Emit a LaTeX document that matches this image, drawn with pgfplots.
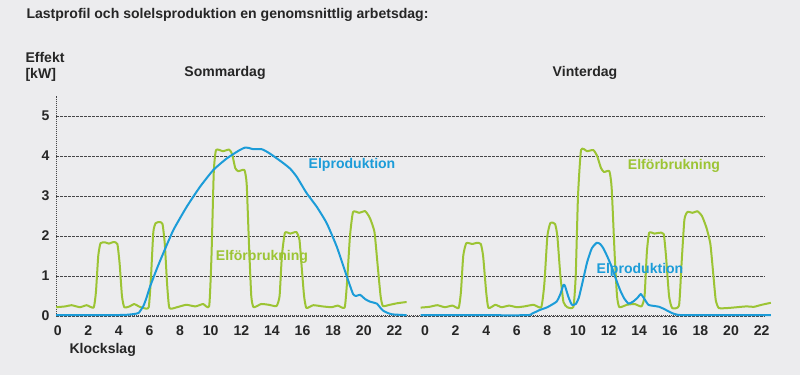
\documentclass[border=0pt]{standalone}
\usepackage{fontspec}
\setmainfont{Liberation Sans}
\usepackage{pgfplots}
\usepackage{pgfplotstable}
\pgfplotsset{compat=1.18}
\definecolor{bgcol}{RGB}{236,236,238}
\definecolor{lgreen}{RGB}{156,196,52}
\definecolor{lblue}{RGB}{28,156,216}
\definecolor{gridc}{RGB}{70,70,72}

\pgfplotstableread{
t y
-0.1 0.22
0.5 0.24
0.9 0.27
1.45 0.22
1.9 0.27
2.35 0.21
2.5 0.6
2.65 1.5
2.8 1.82
3.1 1.84
3.35 1.81
3.65 1.85
3.9 1.8
4.05 1.3
4.2 0.5
4.35 0.22
4.7 0.24
5.0 0.3
5.3 0.24
5.6 0.2
5.95 0.22
6.1 1.0
6.25 2.1
6.4 2.32
6.65 2.35
6.85 2.3
7.0 1.8
7.15 0.8
7.3 0.2
7.8 0.22
8.4 0.28
9.0 0.24
9.5 0.3
9.9 0.25
10.05 1.5
10.2 3.6
10.35 4.15
10.8 4.12
11.2 4.16
11.4 4.05
11.6 3.7
11.8 3.62
12.2 3.65
12.35 3.3
12.5 1.8
12.65 0.5
12.8 0.22
13.3 0.3
13.8 0.28
14.3 0.25
14.5 0.5
14.65 1.5
14.85 2.08
15.2 2.06
15.6 2.1
15.8 1.9
15.95 1.2
16.1 0.5
16.25 0.2
16.7 0.27
17.3 0.24
17.9 0.22
18.3 0.26
18.75 0.21
18.9 0.8
19.1 2.0
19.3 2.6
19.7 2.58
20.1 2.62
20.4 2.45
20.7 2.1
20.9 1.3
21.1 0.5
21.25 0.25
21.7 0.28
22.2 0.32
22.8 0.35
}\sumcons

\pgfplotstableread{
t y
-0.1 0.02
2 0.02
3.5 0.02
4.5 0.03
5.0 0.05
5.3 0.08
5.6 0.25
5.8 0.45
6.03 0.73
6.5 1.2
6.9 1.57
7.56 2.15
8.43 2.73
9.3 3.23
10.17 3.65
11.05 3.94
11.9 4.15
12.24 4.21
12.5 4.2
12.78 4.17
13.33 4.17
13.7 4.1
14.1 4.0
14.75 3.82
15.2 3.68
15.62 3.48
16.27 3.07
16.93 2.73
17.58 2.32
18.24 1.73
18.9 0.98
19.3 0.55
19.5 0.5
19.76 0.53
20.1 0.42
20.4 0.36
20.85 0.31
21.1 0.2
21.28 0.13
21.6 0.07
21.9 0.04
22.8 0.02
}\sumprod

\pgfplotstableread{
t y
-0.28 0.21
0.3 0.23
0.8 0.27
1.3 0.22
1.8 0.26
2.2 0.2
2.35 0.6
2.5 1.5
2.7 1.82
3.1 1.8
3.4 1.83
3.65 1.8
3.8 1.5
4.0 0.6
4.15 0.2
4.6 0.28
5.0 0.22
5.5 0.26
6.0 0.22
6.5 0.24
7.1 0.28
7.6 0.22
7.8 0.8
8.0 2.0
8.2 2.33
8.5 2.3
8.65 2.0
8.85 1.0
9.05 0.35
9.3 0.22
9.7 0.23
9.85 1.0
10.0 3.0
10.2 4.15
10.6 4.12
11.0 4.15
11.25 4.0
11.5 3.7
11.7 3.6
12.05 3.62
12.2 3.2
12.4 1.5
12.55 0.5
12.7 0.22
13.2 0.28
13.7 0.3
14.15 0.24
14.35 0.5
14.5 1.6
14.65 2.08
15.0 2.06
15.3 2.08
15.6 2.05
15.75 1.5
15.95 0.5
16.15 0.2
16.6 0.26
16.75 1.2
16.95 2.4
17.15 2.6
17.5 2.58
17.8 2.62
18.1 2.5
18.4 2.2
18.65 1.8
18.85 1.0
19.0 0.4
19.2 0.2
19.8 0.2
20.4 0.22
21.0 0.24
21.5 0.23
22.0 0.28
22.6 0.33
}\wincons

\pgfplotstableread{
t y
-0.28 0.02
3 0.02
6.65 0.02
7.0 0.06
7.5 0.15
8.0 0.22
8.6 0.36
8.85 0.55
9.05 0.78
9.15 0.75
9.37 0.48
9.6 0.28
9.85 0.3
10.05 0.45
10.3 0.85
10.6 1.35
10.9 1.69
11.22 1.83
11.45 1.8
11.66 1.69
11.9 1.5
12.2 1.23
12.5 0.9
12.75 0.65
13.0 0.45
13.3 0.31
13.6 0.36
13.9 0.46
14.1 0.55
14.3 0.45
14.6 0.28
15.0 0.25
15.3 0.23
15.6 0.18
15.8 0.14
16.1 0.08
16.4 0.04
17 0.02
22.6 0.02
}\winprod

\begin{document}
\begin{tikzpicture}[font=\fontsize{14.1}{16}\selectfont\bfseries]
\fill[bgcol] (0,0) rectangle (800bp,375bp);
\useasboundingbox (0,0) rectangle (800bp,375bp);
\begin{axis}[
  scale only axis,
  width=709bp, height=220bp,
  at={(56bp,59bp)}, anchor=south west,
  xmin=-0.11, xmax=46.22, ymin=0, ymax=5.5,
  clip=false,
  axis lines=left,
  axis line style={-, densely dotted, line width=1bp, gridc},
  major tick length=0pt,
  xtick={0,2,4,6,8,10,12,14,16,18,20,22,24,26,28,30,32,34,36,38,40,42,44,46},
  xticklabels={0,2,4,6,8,10,12,14,16,18,20,22,0,2,4,6,8,10,12,14,16,18,20,22},
  ytick={0,1,2,3,4,5},
  ymajorgrids,
  grid style={dash pattern=on 2.5bp off 1.5bp, gridc, line width=0.6bp},
  /pgf/number format/assume math mode=true,
  ticklabel style={font=\fontsize{14.1}{16}\selectfont\bfseries, text=black!85},
  xticklabel style={anchor=base, yshift=-19.5bp},
  yticklabel style={xshift=-3bp},
]
\addplot[lgreen, line width=2bp, line join=round, smooth, tension=0.3] table[x=t,y=y] {\sumcons};
\addplot[lblue, line width=2bp, line join=round, smooth, tension=0.3] table[x=t,y=y] {\sumprod};
\addplot[lgreen, line width=2bp, line join=round, smooth, tension=0.3] table[x expr=\thisrow{t}+24,y=y] {\wincons};
\addplot[lblue, line width=2bp, line join=round, smooth, tension=0.3] table[x expr=\thisrow{t}+24,y=y] {\winprod};
\end{axis}
\node[anchor=west, text=black!85] at (23bp,360bp) {Lastprofil och solelsproduktion en genomsnittlig arbetsdag:};
\node[anchor=west, text=black!85] at (22bp,318bp) {Effekt};
\node[anchor=west, text=black!85] at (22bp,300bp) {[kW]};
\node[text=black!85] at (225bp,302bp) {Sommardag};
\node[text=black!85] at (585bp,302bp) {Vinterdag};
\node[anchor=west, text=black!85] at (66bp,25bp) {Klockslag};
\node[text=lblue] at (352bp,210bp) {Elproduktion};
\node[text=lgreen] at (262bp,118bp) {Elförbrukning};
\node[text=lgreen] at (674bp,209bp) {Elförbrukning};
\node[text=lblue] at (640bp,105bp) {Elproduktion};
\end{tikzpicture}
\end{document}
